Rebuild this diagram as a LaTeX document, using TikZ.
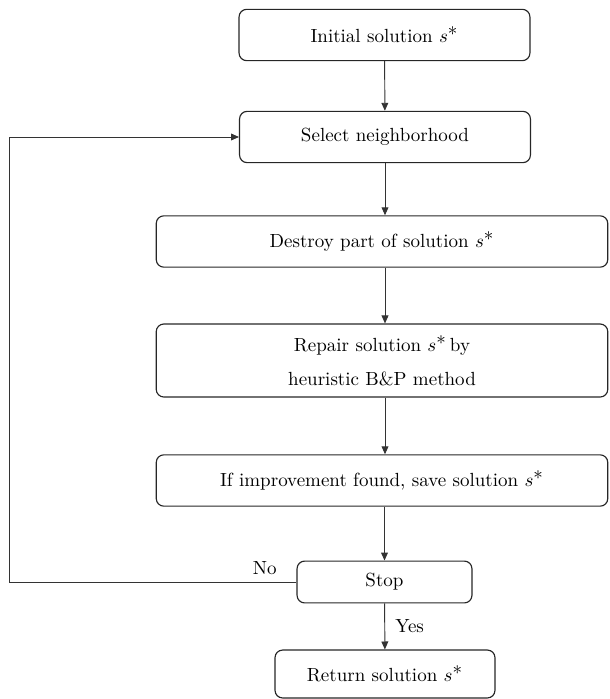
\documentclass[tikz,border=0pt]{standalone}
\usepackage{amsmath}
\usepackage{tikz}
\usetikzlibrary{arrows.meta}
\newcommand{\sst}{$s^{\textstyle *}$}
\tikzset{
  blk/.style = {draw, rounded corners=4pt, align=center, inner sep=0pt, line width=0.6pt, black!85, text=black, minimum width=153pt, minimum height=27pt},
  wb/.style = {blk, minimum width=237.5pt},% wide block
  ln/.style = {line width=0.5pt, black!80, -{Triangle[length=4.2pt,width=3.6pt]}}
}
\begin{document}
\begin{tikzpicture}[x=0.526pt, y=-0.526pt]
\useasboundingbox (0,0) rectangle (609,699);
\node [blk] (ini) at (384.5,35) {Initial solution \sst};
\node [blk] (sel) at (385,137) {Select neighborhood};
\node [wb] (des) at (382,241.5) {Destroy part of solution \sst};
\node [wb, minimum height=38.4pt] (rep) at (382,360.5) {Repair solution \sst\,by\\[6pt] heuristic B\&P method};
\node [wb] (imp) at (382,480.5) {If improvement found, save solution \sst};
\node [blk, minimum width=92pt, minimum height=22pt] (stp) at (384.5,582) {Stop};
\node [blk, minimum width=115.7pt, minimum height=25.2pt] (ret) at (385,674) {Return solution \sst};
\coordinate (lp) at (9,137);
\draw [ln] (ini) -- (sel);
\draw [ln] (sel) -- (sel |- des.north);
\draw [ln] (des.south -| sel) -- (rep.north -| sel);
\draw [ln] (rep.south -| sel) -- (imp.north -| sel);
\draw [ln] (imp.south -| stp) -- (stp);
\draw [ln] (stp) -- node[right, xshift=2pt, text=black] {Yes} (ret);
\draw [ln] (stp.west) -- node[above, pos=0.11, text=black] {No} (stp.west -| lp) -- (lp) -- (sel.west);
\end{tikzpicture}
\end{document}
